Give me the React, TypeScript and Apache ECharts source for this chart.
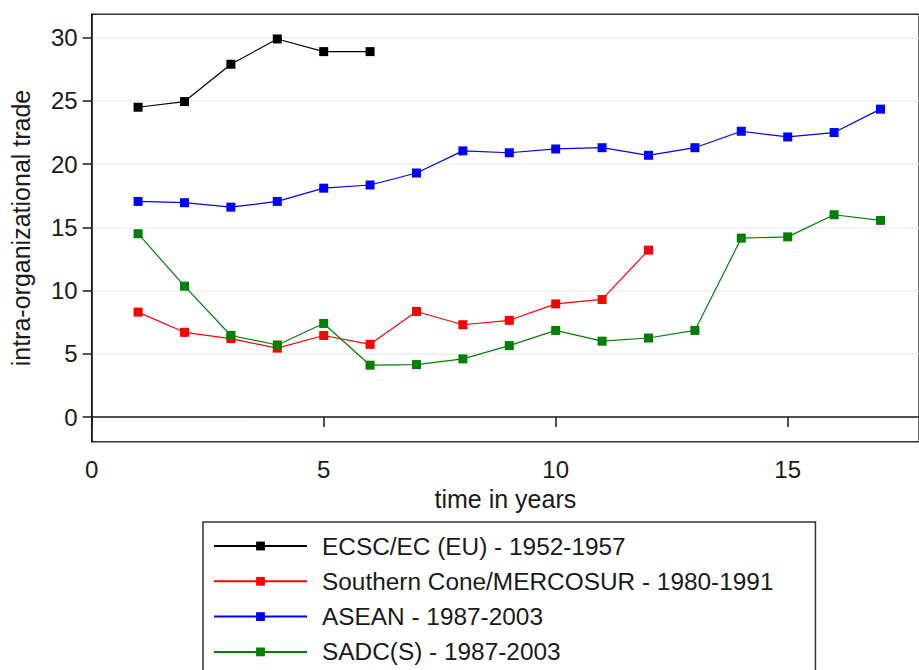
import React, { useEffect, useRef } from "react";
import * as echarts from "echarts";

const years = [1, 2, 3, 4, 5, 6, 7, 8, 9, 10, 11, 12, 13, 14, 15, 16, 17];
const ecsc = [24.5, 24.95, 27.9, 29.9, 28.9, 28.9];
const mercosur = [8.3, 6.7, 6.2, 5.45, 6.45, 5.75, 8.35, 7.3, 7.65, 8.95, 9.3, 13.2];
const asean = [17.05, 16.95, 16.6, 17.05, 18.1, 18.35, 19.3, 21.05, 20.9, 21.2, 21.3, 20.7, 21.3, 22.6, 22.15, 22.5, 24.35];
const sadc = [14.5, 10.35, 6.45, 5.7, 7.4, 4.1, 4.15, 4.6, 5.65, 6.85, 6.0, 6.25, 6.85, 14.15, 14.25, 16.0, 15.55];

const seriesNames = [
  "ECSC/EC (EU) - 1952-1957",
  "Southern Cone/MERCOSUR - 1980-1991",
  "ASEAN - 1987-2003",
  "SADC(S) - 1987-2003",
];
const seriesColors = ["#000000", "#ff0000", "#0000ff", "#007f00"];
const seriesValues = [ecsc, mercosur, asean, sadc];

const xTicks = [0, 5, 10, 15];
const yTicks = [0, 5, 10, 15, 20, 25, 30];

const FONT = "'Liberation Sans', Arial, sans-serif";

export default function App() {
  const ref = useRef<HTMLDivElement>(null);
  useEffect(() => {
    if (!ref.current) return;
    const chart = echarts.init(ref.current, undefined, { renderer: "svg" });
    chart.setOption({
      animation: false,
      backgroundColor: "#ffffff",
      textStyle: { fontFamily: FONT },
      grid: {
        left: 91.7,
        top: 14.3,
        right: -2,
        bottom: 670 - 441.7,
        show: true,
        borderColor: "#333333",
        borderWidth: 1.5,
        containLabel: false,
      },
      xAxis: {
        type: "value",
        min: 0,
        max: 17.83,
        name: "time in years",
        nameLocation: "middle",
        nameGap: 39,
        nameTextStyle: { fontSize: 25, color: "#1a1a1a", fontFamily: FONT },
        axisLine: { show: true, lineStyle: { color: "#1a1a1a", width: 1.5 } },
        axisTick: { show: true, length: 10, inside: false, customValues: xTicks, lineStyle: { color: "#1a1a1a", width: 1.5 } },
        axisLabel: { fontSize: 24, color: "#1a1a1a", margin: 16, customValues: xTicks, fontFamily: FONT },
        splitLine: { show: false },
      },
      yAxis: {
        type: "value",
        min: -1.95,
        max: 31.85,
        name: "intra-organizational trade",
        nameLocation: "middle",
        nameGap: 58,
        nameTextStyle: { fontSize: 25, color: "#1a1a1a", fontFamily: FONT },
        axisLine: { show: true, lineStyle: { color: "#1a1a1a", width: 1.5 } },
        axisTick: { show: true, length: 9, inside: false, customValues: yTicks, lineStyle: { color: "#1a1a1a", width: 1.5 } },
        axisLabel: { fontSize: 24, color: "#1a1a1a", margin: 14, customValues: yTicks, fontFamily: FONT },
        splitLine: { show: true, lineStyle: { color: "#eaf1f3", width: 1.5 } },
      },
      legend: {
        show: true,
        orient: "vertical",
        left: 203,
        top: 522,
        height: 150,
        padding: [12, 42, 20, 10],
        itemWidth: 93,
        itemHeight: 11,
        itemGap: 11.3,
        borderColor: "#333333",
        borderWidth: 1.5,
        backgroundColor: "#ffffff",
        textStyle: { fontSize: 24.4, lineHeight: 24, color: "#1a1a1a", fontFamily: FONT, padding: [0, 0, 0, 10] },
        data: seriesNames,
      },
      series: seriesNames.map((name, i) => ({
        name,
        type: "line",
        data: seriesValues[i].map((v, j) => [years[j], v]),
        symbol: "rect",
        symbolSize: 9,
        color: seriesColors[i],
        itemStyle: { color: seriesColors[i] },
        lineStyle: { color: seriesColors[i], width: 1.2 },
        emphasis: { disabled: true },
      })),
    });
    return () => chart.dispose();
  }, []);
  return <div ref={ref} style={{ position: "absolute", left: 0, top: 0, width: 919, height: 670 }} />;
}
